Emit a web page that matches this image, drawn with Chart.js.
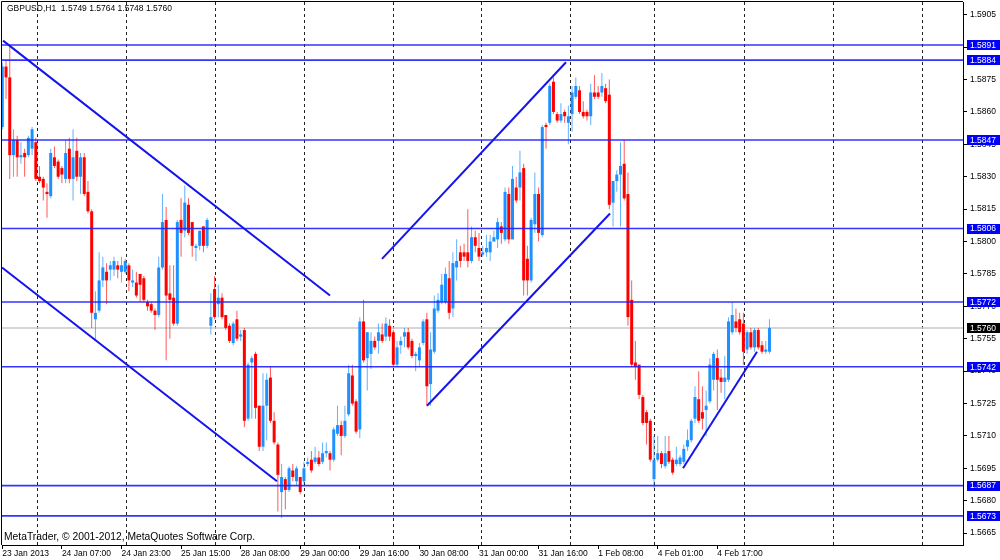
<!DOCTYPE html>
<html><head><meta charset="utf-8">
<style>html,body{margin:0;padding:0;background:#fff;overflow:hidden}canvas{display:block}</style>
<script src="https://cdn.jsdelivr.net/npm/chart.js@4.4.1/dist/chart.umd.min.js"></script>
</head><body>
<canvas id="c" width="1000" height="560"></canvas>
<script>
// ---- data: GBPUSD H1 candles (bar index 0 = 23 Jan 2013 15:00) ----
const opens=[1.5853,1.5881,1.5876,1.5840,1.5847,1.5839,1.5841,1.5840,1.5843,1.5846,1.5830,1.5829,1.5823,1.5821,1.5839,1.5837,1.5834,1.5829,1.5843,1.5829,
1.5842,1.5830,1.5839,1.5823,1.5814,1.5764,1.5768,1.5782,1.5786,1.5787,1.5787,1.5789,1.5786,1.5786,1.5789,1.5781,1.5781,1.5785,1.5783,1.5772,
1.5771,1.5768,1.5766,1.5788,1.5810,1.5776,1.5774,1.5762,1.5810,1.5805,1.5817,1.5809,1.5797,1.5798,1.5807,1.5798,1.5761,1.5778,1.5771,1.5774,
1.5766,1.5761,1.5753,1.5764,1.5756,1.5759,1.5718,1.5744,1.5748,1.5724,1.5705,1.5724,1.5737,1.5717,1.5706,1.5684,1.5690,1.5685,1.5694,1.5689,
1.5691,1.5689,1.5697,1.5699,1.5698,1.5700,1.5698,1.5702,1.5702,1.5699,1.5711,1.5715,1.5710,1.5720,1.5738,1.5726,1.5713,1.5763,1.5746,1.5748,
1.5754,1.5754,1.5757,1.5756,1.5761,1.5758,1.5743,1.5752,1.5756,1.5758,1.5754,1.5747,1.5745,1.5753,1.5764,1.5734,1.5749,1.5768,1.5772,1.5772,
1.5783,1.5769,1.5788,1.5795,1.5795,1.5795,1.5791,1.5802,1.5797,1.5794,1.5795,1.5795,1.5800,1.5801,1.5807,1.5801,1.5822,1.5801,1.5825,1.5825,
1.5834,1.5792,1.5782,1.5808,1.5822,1.5803,1.5854,1.5855,1.5874,1.5859,1.5856,1.5860,1.5855,1.5859,1.5867,1.5870,1.5860,1.5860,1.5858,1.5869,
1.5869,1.5869,1.5871,1.5868,1.5818,1.5828,1.5831,1.5836,1.5822,1.5773,1.5744,1.5743,1.5728,1.5721,1.5717,1.5690,1.5699,1.5702,1.5696,1.5703,
1.5699,1.5697,1.5697,1.5698,1.5705,1.5708,1.5718,1.5727,1.5721,1.5722,1.5726,1.5736,1.5746,1.5737,1.5735,1.5736,1.5758,1.5763,1.5764,1.5762,
1.5750,1.5758,1.5751,1.5759,1.5752,1.5749,1.5749];
const highs=[1.5883,1.5884,1.5891,1.5852,1.5849,1.5846,1.5843,1.5849,1.5853,1.5848,1.5835,1.5830,1.5827,1.5843,1.5844,1.5838,1.5835,1.5847,1.5848,1.5852,
1.5848,1.5841,1.5841,1.5828,1.5815,1.5777,1.5795,1.5793,1.5790,1.5791,1.5793,1.5791,1.5793,1.5792,1.5790,1.5787,1.5786,1.5785,1.5784,1.5773,
1.5772,1.5769,1.5793,1.5822,1.5816,1.5789,1.5789,1.5810,1.5820,1.5826,1.5820,1.5809,1.5799,1.5805,1.5807,1.5811,1.5776,1.5784,1.5780,1.5776,
1.5766,1.5762,1.5763,1.5768,1.5759,1.5760,1.5744,1.5747,1.5749,1.5724,1.5739,1.5739,1.5742,1.5721,1.5707,1.5697,1.5691,1.5696,1.5697,1.5696,
1.5691,1.5698,1.5700,1.5703,1.5705,1.5703,1.5707,1.5707,1.5703,1.5714,1.5724,1.5717,1.5724,1.5743,1.5743,1.5727,1.5765,1.5773,1.5758,1.5758,
1.5756,1.5762,1.5762,1.5765,1.5764,1.5759,1.5754,1.5756,1.5760,1.5760,1.5755,1.5749,1.5753,1.5764,1.5767,1.5758,1.5775,1.5776,1.5785,1.5788,
1.5791,1.5795,1.5801,1.5798,1.5799,1.5815,1.5807,1.5805,1.5804,1.5798,1.5803,1.5803,1.5805,1.5811,1.5809,1.5825,1.5825,1.5835,1.5830,1.5842,
1.5836,1.5798,1.5811,1.5832,1.5825,1.5854,1.5855,1.5873,1.5876,1.5860,1.5864,1.5861,1.5863,1.5872,1.5876,1.5872,1.5865,1.5861,1.5873,1.5877,
1.5872,1.5878,1.5873,1.5875,1.5828,1.5833,1.5846,1.5847,1.5832,1.5782,1.5754,1.5743,1.5729,1.5722,1.5718,1.5710,1.5710,1.5703,1.5710,1.5710,
1.5700,1.5705,1.5701,1.5706,1.5713,1.5718,1.5733,1.5740,1.5733,1.5731,1.5746,1.5749,1.5750,1.5741,1.5747,1.5765,1.5772,1.5769,1.5767,1.5767,
1.5759,1.5760,1.5760,1.5760,1.5754,1.5754,1.5764];
const lows=[1.5852,1.5866,1.5829,1.5830,1.5830,1.5836,1.5830,1.5839,1.5840,1.5828,1.5827,1.5819,1.5811,1.5820,1.5834,1.5829,1.5827,1.5827,1.5827,1.5819,
1.5828,1.5822,1.5821,1.5813,1.5760,1.5754,1.5767,1.5779,1.5771,1.5782,1.5784,1.5783,1.5781,1.5785,1.5777,1.5779,1.5774,1.5772,1.5772,1.5768,
1.5767,1.5759,1.5765,1.5787,1.5745,1.5755,1.5761,1.5761,1.5793,1.5802,1.5803,1.5793,1.5791,1.5796,1.5795,1.5797,1.5757,1.5764,1.5765,1.5764,
1.5759,1.5753,1.5752,1.5754,1.5754,1.5714,1.5717,1.5718,1.5718,1.5703,1.5703,1.5708,1.5716,1.5706,1.5675,1.5672,1.5676,1.5684,1.5689,1.5687,
1.5683,1.5688,1.5696,1.5693,1.5697,1.5696,1.5697,1.5700,1.5694,1.5698,1.5710,1.5701,1.5709,1.5719,1.5724,1.5711,1.5709,1.5744,1.5731,1.5741,
1.5750,1.5748,1.5753,1.5754,1.5754,1.5742,1.5742,1.5748,1.5751,1.5750,1.5746,1.5740,1.5742,1.5752,1.5724,1.5724,1.5748,1.5767,1.5771,1.5771,
1.5764,1.5765,1.5782,1.5788,1.5791,1.5788,1.5790,1.5795,1.5791,1.5793,1.5793,1.5791,1.5800,1.5797,1.5799,1.5800,1.5799,1.5801,1.5818,1.5819,
1.5775,1.5775,1.5781,1.5804,1.5800,1.5802,1.5843,1.5854,1.5859,1.5855,1.5855,1.5855,1.5845,1.5851,1.5866,1.5859,1.5857,1.5856,1.5854,1.5866,
1.5866,1.5867,1.5864,1.5815,1.5807,1.5823,1.5807,1.5819,1.5761,1.5742,1.5736,1.5727,1.5715,1.5706,1.5698,1.5686,1.5698,1.5695,1.5695,1.5697,
1.5692,1.5696,1.5696,1.5697,1.5703,1.5707,1.5716,1.5716,1.5713,1.5710,1.5725,1.5731,1.5722,1.5730,1.5727,1.5735,1.5757,1.5758,1.5757,1.5743,
1.5748,1.5750,1.5749,1.5750,1.5748,1.5748,1.5748];
const closes=[1.5881,1.5876,1.5840,1.5847,1.5839,1.5840,1.5839,1.5848,1.5852,1.5829,1.5828,1.5825,1.5822,1.5841,1.5835,1.5830,1.5831,1.5841,1.5829,1.5839,
1.5830,1.5839,1.5822,1.5814,1.5767,1.5767,1.5782,1.5788,1.5782,1.5789,1.5791,1.5787,1.5789,1.5791,1.5782,1.5782,1.5775,1.5780,1.5773,1.5770,
1.5768,1.5766,1.5788,1.5809,1.5775,1.5773,1.5762,1.5809,1.5804,1.5818,1.5804,1.5798,1.5798,1.5805,1.5798,1.5810,1.5765,1.5765,1.5774,1.5765,
1.5760,1.5754,1.5762,1.5755,1.5757,1.5717,1.5743,1.5746,1.5723,1.5705,1.5724,1.5736,1.5717,1.5707,1.5692,1.5691,1.5685,1.5695,1.5691,1.5695,
1.5684,1.5695,1.5698,1.5694,1.5700,1.5697,1.5702,1.5703,1.5699,1.5713,1.5715,1.5710,1.5717,1.5739,1.5725,1.5712,1.5763,1.5745,1.5758,1.5754,
1.5751,1.5758,1.5754,1.5762,1.5756,1.5743,1.5751,1.5754,1.5758,1.5751,1.5747,1.5748,1.5751,1.5763,1.5733,1.5750,1.5769,1.5773,1.5780,1.5785,
1.5767,1.5790,1.5791,1.5791,1.5793,1.5791,1.5802,1.5798,1.5793,1.5795,1.5797,1.5800,1.5802,1.5809,1.5804,1.5823,1.5801,1.5829,1.5819,1.5832,
1.5782,1.5782,1.5810,1.5822,1.5804,1.5853,1.5853,1.5872,1.5860,1.5856,1.5859,1.5858,1.5858,1.5869,1.5872,1.5860,1.5858,1.5858,1.5869,1.5867,
1.5867,1.5872,1.5865,1.5817,1.5828,1.5831,1.5835,1.5820,1.5765,1.5743,1.5742,1.5729,1.5716,1.5716,1.5699,1.5699,1.5702,1.5697,1.5702,1.5698,
1.5693,1.5699,1.5700,1.5704,1.5708,1.5717,1.5728,1.5717,1.5718,1.5724,1.5743,1.5748,1.5736,1.5735,1.5737,1.5763,1.5766,1.5760,1.5758,1.5749,
1.5758,1.5751,1.5759,1.5751,1.5749,1.5750,1.5760];

// time axis labels (bar index of each label), day separators (bar index), price axis ticks
const xTickBars=[0,16,32,48,64,80,96,112,128,144,160,176,192];
const xTickLabels=["23 Jan 2013","24 Jan 07:00","24 Jan 23:00","25 Jan 15:00","28 Jan 08:00","29 Jan 00:00","29 Jan 16:00","30 Jan 08:00","31 Jan 00:00","31 Jan 16:00","1 Feb 08:00","4 Feb 01:00","4 Feb 17:00"];
const daySeparatorBars=[9.25,33.2,57.1,81.0,104.9,128.6,152.5,175.1,199.1,223.0,246.9];
const yTicks=[1.5665,1.5680,1.5695,1.5710,1.5725,1.5740,1.5755,1.5770,1.5785,1.5800,1.5815,1.5830,1.5845,1.5860,1.5875,1.5890,1.5905];

// horizontal price levels, bid line, trend lines ([bar, price] endpoints)
const levels=[1.5891,1.5884,1.5847,1.5806,1.5772,1.5742,1.5687,1.5673];
const bidPrice=1.5760;
const trendLines=[
  [[0.19,1.5893],[88.0,1.5775]],
  [[-0.08,1.5788],[73.76,1.5689]],
  [[101.96,1.5792],[151.37,1.5883]],
  [[114.05,1.5724],[163.19,1.5813]],
  [[182.79,1.5695],[202.66,1.5749]]
];
const titleText="GBPUSD,H1  1.5749 1.5764 1.5748 1.5760";
const footerText="MetaTrader, \u00A9 2001-2012, MetaQuotes Software Corp.";

// ---- view settings ----
const X_MIN=-0.08, X_MAX=257.97, Y_MIN=1.56595, Y_MAX=1.59109;
const FONT_FAMILY='"Liberation Sans", Arial, sans-serif';
const FONT_SIZE=8.5, FOOTER_SIZE=10.3;
const UP='rgb(30,144,255)', DOWN='rgb(255,0,0)';
const UP_WICK='rgba(30,144,255,0.7)', DOWN_WICK='rgba(255,0,0,0.65)';
const LINE_BLUE='rgb(20,20,235)';

const idx=opens.map((_,i)=>i);
const isUp=idx.map(i=>closes[i]>=opens[i]);
const wickData=idx.map(i=>({x:i,y:[lows[i],highs[i]]}));
const bodyData=idx.map(i=>({x:i,y:[Math.min(opens[i],closes[i]),Math.max(opens[i],closes[i])]}));

const datasets=[
  {type:'line',data:[{x:X_MIN,y:bidPrice},{x:X_MAX,y:bidPrice}],borderColor:'#c8c8c8',borderWidth:1.5,pointRadius:0,order:20},
  {type:'bar',data:wickData,backgroundColor:idx.map(i=>isUp[i]?UP_WICK:DOWN_WICK),barThickness:1,grouped:false,borderWidth:0,inflateAmount:0,order:11},
  {type:'bar',data:bodyData,backgroundColor:idx.map(i=>isUp[i]?UP:DOWN),barThickness:3,minBarLength:1,grouped:false,borderWidth:0,inflateAmount:0,order:10},
  ...levels.map(v=>({type:'line',data:[{x:X_MIN,y:v},{x:X_MAX,y:v}],borderColor:'rgba(30,30,255,0.9)',borderWidth:1.6,pointRadius:0,order:1})),
  ...trendLines.map(t=>({type:'line',data:t.map(p=>({x:p[0],y:p[1]})),borderColor:LINE_BLUE,borderWidth:2,pointRadius:0,order:0}))
];

const mtPlugin={
  id:'mt',
  beforeDatasetsDraw(chart){
    const {ctx,chartArea:a,scales:{x}}=chart;
    ctx.save();
    ctx.strokeStyle='#222';ctx.lineWidth=1;ctx.setLineDash([3,3]);
    daySeparatorBars.forEach(b=>{
      const px=Math.round(x.getPixelForValue(b))+0.5;
      ctx.beginPath();ctx.moveTo(px,a.top);ctx.lineTo(px,a.bottom);ctx.stroke();
    });
    ctx.restore();
  },
  afterDraw(chart){
    const {ctx,chartArea:a,scales:{y}}=chart;
    ctx.save();
    ctx.strokeStyle='#000';ctx.lineWidth=1;
    ctx.beginPath();ctx.moveTo(a.left-0.5,a.bottom);ctx.lineTo(a.left-0.5,a.top-0.5);ctx.lineTo(a.right,a.top-0.5);ctx.stroke();
    ctx.textBaseline='middle';ctx.textAlign='left';
    ctx.fillStyle='#000';
    ctx.font=FONT_SIZE+'px '+FONT_FAMILY;
    ctx.fillText(titleText,7,8.5);
    ctx.font=FOOTER_SIZE+'px '+FONT_FAMILY;
    ctx.fillText(footerText,4,537.5);
    ctx.font=FONT_SIZE+'px '+FONT_FAMILY;
    const box=(v,bg)=>{
      const py=y.getPixelForValue(v);
      ctx.fillStyle=bg;ctx.fillRect(a.right+4,Math.round(py)-5,1000-(a.right+4),10);
      ctx.fillStyle='#fff';ctx.fillText(v.toFixed(4),a.right+7,py+0.5);
    };
    levels.forEach(v=>box(v,'#0000ff'));
    box(bidPrice,'#000');
    ctx.restore();
  }
};

Chart.defaults.font.family=FONT_FAMILY;
Chart.defaults.font.size=FONT_SIZE;
Chart.defaults.color='#000';

new Chart(document.getElementById('c'),{
  type:'bar',
  data:{datasets},
  options:{
    responsive:false,animation:false,
    layout:{padding:{left:2,top:2,right:0,bottom:0}},
    plugins:{legend:{display:false},tooltip:{enabled:false},title:{display:false}},
    scales:{
      x:{type:'linear',position:'bottom',min:X_MIN,max:X_MAX,offset:false,
        afterBuildTicks:s=>{s.ticks=xTickBars.map(v=>({value:v}));},
        afterFit:s=>{s.height=15;s.paddingLeft=0;s.paddingRight=0;},
        ticks:{autoSkip:false,maxRotation:0,minRotation:0,align:'start',padding:0,color:'#000',
          callback:(v,i)=>xTickLabels[i]},
        grid:{display:true,drawOnChartArea:false,drawTicks:true,tickLength:4,color:'#000',offset:false},
        border:{display:true,color:'#000',width:1}
      },
      y:{type:'linear',position:'right',min:Y_MIN,max:Y_MAX,
        afterBuildTicks:s=>{s.ticks=yTicks.map(v=>({value:v}));},
        afterFit:s=>{s.width=37;s.paddingTop=0;s.paddingBottom=0;},
        ticks:{autoSkip:false,padding:3,color:'#000',callback:v=>v.toFixed(4)},
        grid:{display:true,drawOnChartArea:false,drawTicks:true,tickLength:4,color:'#000'},
        border:{display:true,color:'#000',width:1}
      }
    }
  },
  plugins:[mtPlugin]
});
</script>
</body></html>
